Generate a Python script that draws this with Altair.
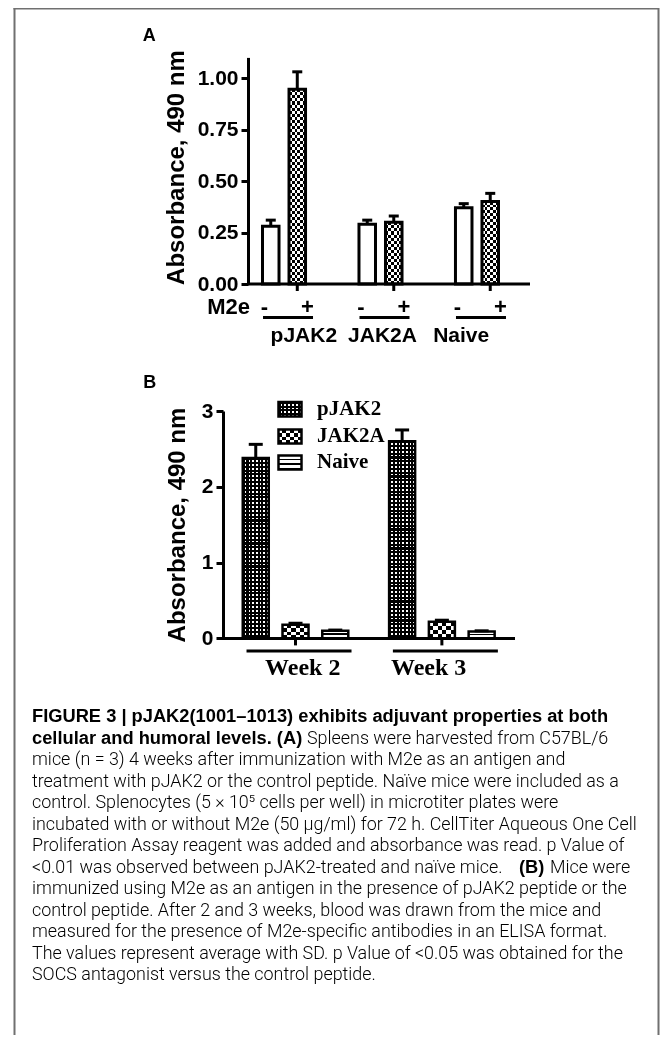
import altair as alt
import pandas as pd

# ---------------- data ----------------
A_GROUPS = ["pJAK2", "JAK2A", "Naive"]
A_M2E = ["-", "+"]
A_MINUS = [0.28, 0.29, 0.37]
A_MINUS_ERR = [0.03, 0.02, 0.02]
A_PLUS = [0.945, 0.30, 0.40]
A_PLUS_ERR = [0.085, 0.03, 0.04]
A_TICKS = [0.0, 0.25, 0.5, 0.75, 1.0]

B_WEEKS = ["Week 2", "Week 3"]
B_SERIES = ["pJAK2", "JAK2A", "Naive"]
B_PJAK2 = [2.38, 2.60]
B_PJAK2_ERR = [0.18, 0.15]
B_JAK2A = [0.18, 0.22]
B_JAK2A_ERR = [0.02, 0.02]
B_NAIVE = [0.10, 0.09]
B_NAIVE_ERR = [0.01, 0.01]
B_TICKS = [0, 1, 2, 3]

Y_TITLE = "Absorbance, 490 nm"
M2E_LABEL = "M2e"
PANEL_LABELS = ["A", "B"]

CAPTION = [
    [("FIGURE 3 | pJAK2(1001–1013) exhibits adjuvant properties at both", "bold")],
    [("cellular and humoral levels. (A)", "bold"), ("Spleens were harvested from C57BL/6", "normal")],
    [("mice (n = 3) 4 weeks after immunization with M2e as an antigen and", "normal")],
    [("treatment with pJAK2 or the control peptide. Naïve mice were included as a", "normal")],
    [("control. Splenocytes (5 × 10⁵ cells per well) in microtiter plates were", "normal")],
    [("incubated with or without M2e (50 μg/ml) for 72 h. CellTiter Aqueous One Cell", "normal")],
    [("Proliferation Assay reagent was added and absorbance was read. p Value of", "normal")],
    [("<0.01 was observed between pJAK2-treated and naïve mice.", "normal"), ("(B)", "bold"), ("Mice were", "normal")],
    [("immunized using M2e as an antigen in the presence of pJAK2 peptide or the", "normal")],
    [("control peptide. After 2 and 3 weeks, blood was drawn from the mice and", "normal")],
    [("measured for the presence of M2e-specific antibodies in an ELISA format.", "normal")],
    [("The values represent average with SD. p Value of <0.05 was obtained for the", "normal")],
    [("SOCS antagonist versus the control peptide.", "normal")],
]

# ---------------- layout / style ----------------
W, H = 652, 1027
SANS = "Liberation Sans"
SERIF = "Liberation Serif"
CAPF = "Roboto"
FRAME = "#707070"
CLEAR = "rgba(255,255,255,0)"
CLEARK = "rgba(0,0,0,0)"

A_YDOM, A_YRNG = [0, 1.1], [276, 49.4]
A_XRNG, A_PADI, A_OFFPADI = [254.5, 490.5], 0.554, 0.377
B_YDOM, B_YRNG = [0, 3], [630.4, 403.0]
B_XRNG, B_PADI, B_OFFPADI = [234.75, 486.65], 0.279, 0.346

A_PPU = (A_YRNG[0] - A_YRNG[1]) / (A_YDOM[1] - A_YDOM[0])
B_PPU = (B_YRNG[0] - B_YRNG[1]) / (B_YDOM[1] - B_YDOM[0])


def bandw(rng, n, pi):
    step = (rng[1] - rng[0]) / (n - pi)
    return step * (1 - pi)


A_BW = bandw([0, bandw(A_XRNG, 3, A_PADI)], 2, A_OFFPADI)
B_BW = bandw([0, bandw(B_XRNG, 2, B_PADI)], 3, B_OFFPADI)


def stripes(n, c1, c2, frac=0.5, vertical=True):
    stops = []
    for i in range(n):
        a, b, c = i / n, (i + frac) / n, (i + 1) / n
        stops += [
            {"offset": round(a, 5), "color": c1},
            {"offset": round(b, 5), "color": c1},
            {"offset": round(b, 5), "color": c2},
            {"offset": round(c, 5), "color": c2},
        ]
    g = {"gradient": "linear", "x1": 0, "y1": 0, "stops": stops}
    if vertical:
        g.update({"x2": 0, "y2": 1})
    else:
        g.update({"x2": 1, "y2": 0})
    return g


# ---------------- frames ----------------
rowsA = []
for g, v, e in zip(A_GROUPS, A_MINUS, A_MINUS_ERR):
    rowsA.append({"grp": g, "m2e": "-", "val": v, "err": e})
for g, v, e in zip(A_GROUPS, A_PLUS, A_PLUS_ERR):
    rowsA.append({"grp": g, "m2e": "+", "val": v, "err": e})
dfA = pd.DataFrame(rowsA)

rowsB = []
for i, w in enumerate(B_WEEKS):
    for s, vals, errs in zip(B_SERIES, [B_PJAK2, B_JAK2A, B_NAIVE], [B_PJAK2_ERR, B_JAK2A_ERR, B_NAIVE_ERR]):
        rowsB.append({"wk": w, "ser": s, "val": vals[i], "err": errs[i]})
dfB = pd.DataFrame(rowsB)

ONE = pd.DataFrame({"k": [0]})


def ax():
    return alt.X("grp:N", scale=alt.Scale(domain=A_GROUPS, range=A_XRNG, paddingInner=A_PADI, paddingOuter=0), axis=None)


def axo():
    return alt.XOffset("m2e:N", scale=alt.Scale(domain=A_M2E, paddingInner=A_OFFPADI, paddingOuter=0))


def ay(field="val", axis=None, datum=None):
    sc = alt.Scale(domain=A_YDOM, range=A_YRNG, nice=False)
    if datum is not None:
        return alt.Y(datum=datum, type="quantitative", scale=sc, axis=None)
    return alt.Y(f"{field}:Q", scale=sc, axis=axis, stack=None)


def bx():
    return alt.X("wk:N", scale=alt.Scale(domain=B_WEEKS, range=B_XRNG, paddingInner=B_PADI, paddingOuter=0), axis=None)


def bxo():
    return alt.XOffset("ser:N", scale=alt.Scale(domain=B_SERIES, paddingInner=B_OFFPADI, paddingOuter=0))


def by(field="val", axis=None, datum=None):
    sc = alt.Scale(domain=B_YDOM, range=B_YRNG, nice=False)
    if datum is not None:
        return alt.Y(datum=datum, type="quantitative", scale=sc, axis=None)
    return alt.Y(f"{field}:Q", scale=sc, axis=axis, stack=None)


def yaxis(offset, values, fmt):
    return alt.Axis(orient="left", offset=offset, values=values, format=fmt, title="", grid=False,
                    domainColor="black", domainWidth=3, tickColor="black", tickWidth=3, tickSize=7,
                    labelFont=SANS, labelFontSize=21, labelFontWeight="bold", labelColor="black",
                    labelPadding=3, labelOverlap=False, labelFlush=False)


def txt(x, y, s, font=SANS, size=18, weight="bold", align="left", baseline="alphabetic", angle=0, style="normal"):
    return alt.Chart(ONE).mark_text(font=font, fontSize=size, fontWeight=weight, align=align,
                                    baseline=baseline, angle=angle, fontStyle=style, color="black").encode(
        x=alt.value(x), y=alt.value(y), text=alt.value(s))


L = []

# frame
L.append(alt.Chart(ONE).mark_rule(color=FRAME, strokeWidth=2).encode(x=alt.value(6.5), y=alt.value(0), y2=alt.value(H + 20)))
L.append(alt.Chart(ONE).mark_rule(color=FRAME, strokeWidth=2).encode(x=alt.value(5.5), x2=alt.value(651), y=alt.value(0.5)))
L.append(alt.Chart(ONE).mark_rule(color=FRAME, strokeWidth=2).encode(x=alt.value(650.5), y=alt.value(0), y2=alt.value(H + 20)))

# ================= Panel A =================
A_CELL = 3.0
for g, v in zip(A_GROUPS, A_PLUS):
    n = max(1, round(v * A_PPU / (2 * A_CELL)))
    L.append(alt.Chart(dfA).transform_filter(f"datum.grp === '{g}' && datum.m2e === '+'")
             .mark_bar(fill=stripes(n, "#000000", "#ffffff"), strokeWidth=0)
             .encode(x=ax(), xOffset=axo(), y=ay()))
ncol = max(1, round(A_BW / (2 * A_CELL)))
L.append(alt.Chart(dfA).transform_filter("datum.m2e === '+'")
         .mark_bar(fill=stripes(ncol, "#ffffff", CLEAR, vertical=False), blend="difference", strokeWidth=0)
         .encode(x=ax(), xOffset=axo(), y=ay()))
L.append(alt.Chart(dfA).mark_bar(fill="white", fillOpacity=0, stroke="black", strokeWidth=3)
         .encode(x=ax(), xOffset=axo(), y=ay(axis=yaxis(-240, A_TICKS, ".2f"))))
# error bars
L.append(alt.Chart(dfA).transform_calculate(top="datum.val + datum.err")
         .mark_rule(color="black", strokeWidth=3)
         .encode(x=ax(), xOffset=axo(), y=ay("val"), y2="top:Q"))
L.append(alt.Chart(dfA).transform_calculate(top="datum.val + datum.err")
         .mark_tick(orient="horizontal", size=10, thickness=3, color="black", opacity=1)
         .encode(x=ax(), xOffset=axo(), y=ay("top")))
# x axis line and ticks
L.append(alt.Chart(ONE).mark_rule(color="black", strokeWidth=3)
         .encode(x=alt.value(240), x2=alt.value(522), y=ay(datum=0)))
L.append(alt.Chart(dfA).transform_filter("datum.m2e === '+'")
         .mark_tick(orient="vertical", size=7, thickness=3, yOffset=3.5, color="black", opacity=1)
         .encode(x=ax(), xOffset=axo(), y=ay(datum=0)))
# -, + labels
L.append(alt.Chart(dfA).mark_text(font=SANS, fontSize=22, fontWeight="bold", baseline="middle", color="black", dx=2)
         .encode(x=ax(), xOffset=axo(), y=alt.value(298.5), text="m2e:N"))
L.append(txt(242, 298.5, M2E_LABEL, size=22, align="right", baseline="middle"))
# group underline + labels
L.append(alt.Chart(pd.DataFrame({"grp": A_GROUPS}))
         .mark_tick(orient="horizontal", size=50, thickness=3, xOffset=4, color="black", opacity=1)
         .encode(x=ax(), y=alt.value(309.5)))
L.append(alt.Chart(pd.DataFrame({"grp": A_GROUPS}))
         .mark_text(font=SANS, fontSize=21, fontWeight="bold", baseline="middle", color="black", dx=2)
         .encode(x=ax(), y=alt.value(328), text="grp:N"))
L.append(txt(134.7, 32.7, PANEL_LABELS[0], size=18))
L.append(txt(169, 159.5, Y_TITLE, size=24, align="center", baseline="middle", angle=270))

# ================= Panel B =================
B_DOT = 3.8
ncolB = max(1, round(B_BW / B_DOT))
for w, v in zip(B_WEEKS, B_PJAK2):
    n = max(1, round(v * B_PPU / B_DOT))
    L.append(alt.Chart(dfB).transform_filter(f"datum.wk === '{w}' && datum.ser === 'pJAK2'")
             .mark_bar(fill=stripes(n, "#000000", "#ffffff", frac=0.55), strokeWidth=0)
             .encode(x=bx(), xOffset=bxo(), y=by()))
L.append(alt.Chart(dfB).transform_filter("datum.ser === 'pJAK2'")
         .mark_bar(fill=stripes(ncolB, "#000000", CLEARK, frac=0.55, vertical=False), strokeWidth=0)
         .encode(x=bx(), xOffset=bxo(), y=by()))
B_CELL = 4.3
for w, v in zip(B_WEEKS, B_JAK2A):
    n = max(1, round(v * B_PPU / (2 * B_CELL)))
    L.append(alt.Chart(dfB).transform_filter(f"datum.wk === '{w}' && datum.ser === 'JAK2A'")
             .mark_bar(fill=stripes(n, "#000000", "#ffffff"), strokeWidth=0)
             .encode(x=bx(), xOffset=bxo(), y=by()))
L.append(alt.Chart(dfB).transform_filter("datum.ser === 'JAK2A'")
         .mark_bar(fill=stripes(max(1, round(B_BW / (2 * B_CELL))), "#ffffff", CLEAR, vertical=False),
                   blend="difference", strokeWidth=0)
         .encode(x=bx(), xOffset=bxo(), y=by()))
for w, v in zip(B_WEEKS, B_NAIVE):
    n = max(1, round(v * B_PPU / 3.8))
    L.append(alt.Chart(dfB).transform_filter(f"datum.wk === '{w}' && datum.ser === 'Naive'")
             .mark_bar(fill=stripes(n, "#ffffff", "#000000", frac=0.62), strokeWidth=0)
             .encode(x=bx(), xOffset=bxo(), y=by()))
L.append(alt.Chart(dfB).mark_bar(fill="white", fillOpacity=0, stroke="black", strokeWidth=2.5)
         .encode(x=bx(), xOffset=bxo(), y=by(axis=yaxis(-215, B_TICKS, "d"))))
L.append(alt.Chart(dfB).transform_calculate(top="datum.val + datum.err")
         .mark_rule(color="black", strokeWidth=3)
         .encode(x=bx(), xOffset=bxo(), y=by("val"), y2="top:Q"))
L.append(alt.Chart(dfB).transform_calculate(top="datum.val + datum.err")
         .mark_tick(orient="horizontal", size=14, thickness=3, color="black", opacity=1)
         .encode(x=bx(), xOffset=bxo(), y=by("top")))
L.append(alt.Chart(ONE).mark_rule(color="black", strokeWidth=3)
         .encode(x=alt.value(215), x2=alt.value(507), y=by(datum=0)))
L.append(alt.Chart(dfB).transform_filter("datum.ser === 'JAK2A'")
         .mark_tick(orient="vertical", size=7, thickness=3, yOffset=3.5, color="black", opacity=1)
         .encode(x=bx(), xOffset=bxo(), y=by(datum=0)))
L.append(alt.Chart(pd.DataFrame({"wk": B_WEEKS}))
         .mark_tick(orient="horizontal", size=105, thickness=3, xOffset=3.5, color="black", opacity=1)
         .encode(x=bx(), y=alt.value(643)))
L.append(alt.Chart(pd.DataFrame({"wk": B_WEEKS}))
         .mark_text(font=SERIF, fontSize=24, fontWeight="bold", baseline="middle", color="black", dx=-3)
         .encode(x=bx(), y=alt.value(660), text="wk:N"))
L.append(txt(135.3, 380.3, PANEL_LABELS[1], size=18))
L.append(txt(170, 517, Y_TITLE, size=24, align="center", baseline="middle", angle=270))

# legend (B)
LEG_X = (270.5, 293.5)
LEG_Y = [(394, 408.5), (421.5, 435.5), (447.5, 461.5)]
LEG_TX, LEG_TY = 309, [401, 428, 454]


def swatch(y0, y1, fill, blend=None, stroke=False):
    kw = {}
    if blend:
        kw["blend"] = blend
    if stroke:
        m = alt.Chart(ONE).mark_rect(fill="white", fillOpacity=0, stroke="black", strokeWidth=2.5)
    else:
        m = alt.Chart(ONE).mark_rect(fill=fill, strokeWidth=0, **kw)
    return m.encode(x=alt.value(LEG_X[0]), x2=alt.value(LEG_X[1]), y=alt.value(y0), y2=alt.value(y1))


L.append(swatch(*LEG_Y[0], stripes(4, "#000000", "#ffffff", frac=0.55)))
L.append(swatch(*LEG_Y[0], stripes(6, "#000000", CLEARK, frac=0.55, vertical=False)))
L.append(swatch(*LEG_Y[1], stripes(2, "#000000", "#ffffff")))
L.append(swatch(*LEG_Y[1], stripes(3, "#ffffff", CLEAR, vertical=False), blend="difference"))
L.append(swatch(*LEG_Y[2], stripes(3, "#ffffff", "#000000", frac=0.65)))
for y0, y1 in LEG_Y:
    L.append(swatch(y0, y1, None, stroke=True))
for s, ty in zip(B_SERIES, LEG_TY):
    L.append(txt(LEG_TX, ty, s, font=SERIF, size=21, baseline="middle"))

# ================= Caption =================
CAP_X0, CAP_Y0, CAP_DY = 24, 709, 21.5
SEG_X = {(1, 1): 299, (7, 1): 511, (7, 2): 542}
for i, line in enumerate(CAPTION):
    for j, (s, wgt) in enumerate(line):
        x = SEG_X.get((i, j), CAP_X0)
        if wgt == "bold":
            L.append(txt(x, CAP_Y0 + i * CAP_DY, s, font=SANS, size=18.3, weight="bold", baseline="middle"))
        else:
            L.append(txt(x, CAP_Y0 + i * CAP_DY, s, font=CAPF, size=17.9, weight=300, baseline="middle"))

chart = (alt.layer(*L)
         .resolve_scale(x="independent", y="independent", xOffset="independent")
         .properties(width=W, height=H, autosize=alt.AutoSizeParams(type="none"), padding=0, background="white")
         .configure_view(strokeWidth=0))

chart.save("out.html", embed_options={"renderer": "svg", "actions": False})
